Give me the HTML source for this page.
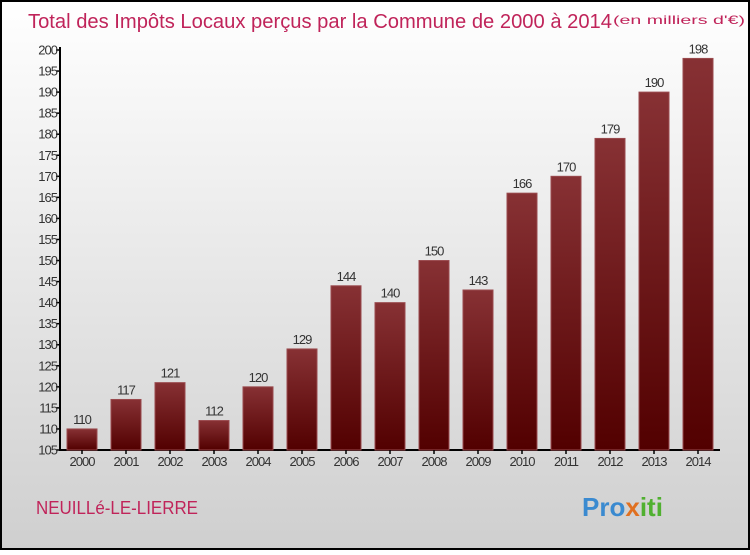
<!DOCTYPE html>
<html><head><meta charset="utf-8"><style>
body{margin:0}
#c{width:750px;height:550px;position:relative;font-family:"Liberation Sans",sans-serif;}
</style></head><body>
<div id="c">
<svg width="750" height="550" xmlns="http://www.w3.org/2000/svg" id="svg">
<defs>
<linearGradient id="bg" x1="0" y1="0" x2="0" y2="1"><stop offset="0" stop-color="#ffffff"/><stop offset="1" stop-color="#cfcfcf"/></linearGradient>
<linearGradient id="bar" x1="0" y1="0" x2="0" y2="1"><stop offset="0" stop-color="#873134"/><stop offset="1" stop-color="#520000"/></linearGradient>
</defs>
<rect x="1" y="1" width="748" height="548" fill="url(#bg)" stroke="#000" stroke-width="2"/>
<text x="28" y="28" font-size="20" fill="#c0245a" textLength="584" lengthAdjust="spacingAndGlyphs">Total des Impôts Locaux perçus par la Commune de 2000 à 2014</text>
<text x="613" y="24" font-size="12" fill="#c0245a" textLength="132" lengthAdjust="spacingAndGlyphs">(en milliers d'€)</text>
<text x="36" y="514" font-size="18" fill="#c0245a" textLength="162" lengthAdjust="spacingAndGlyphs">NEUILLé-LE-LIERRE</text>
<text x="582" y="516" font-size="26" font-weight="bold" fill="#3a8ad0">Pro<tspan fill="#e07020">x</tspan><tspan fill="#50b030">iti</tspan></text>
<g id="g"></g>
</svg>
</div>
<script>
const categories=["2000","2001","2002","2003","2004","2005","2006","2007","2008","2009","2010","2011","2012","2013","2014"];
const values=[110,117,121,112,120,129,144,140,150,143,166,170,179,190,198];
const yTicks=[105,110,115,120,125,130,135,140,145,150,155,160,165,170,175,180,185,190,195,200];
const NS="http://www.w3.org/2000/svg";
const g=document.getElementById('g');
const y0=450,y1=50,vmin=105,vmax=200;
function y(v){return y0-(v-vmin)/(vmax-vmin)*(y0-y1);}
function x(i){return 82+i*44;}
function mk(t,a,txt){const e=document.createElementNS(NS,t);for(const k in a)e.setAttribute(k,a[k]);if(txt!==undefined)e.textContent=txt;g.appendChild(e);return e;}
let e=mk('line',{x1:60,y1:y1-3,x2:60,y2:y0,stroke:'#000','stroke-width':2});


e=mk('line',{x1:59,y1:y0,x2:720,y2:y0,stroke:'#000','stroke-width':2});


yTicks.forEach(t=>{
 let l=mk('line',{x1:56,y1:y(t),x2:61,y2:y(t),stroke:'#000','stroke-width':1.5});
 
 
 let s=mk('text',{x:57,y:y(t)+4.5,'font-size':13,'text-anchor':'end',fill:'#333','letter-spacing':'-1'},t);
 
 
});
categories.forEach((c,i)=>{
 const v=values[i];
 let r=mk('rect',{x:x(i)-15,y:y(v),width:30,height:y0-y(v),fill:'url(#bar)',stroke:'#9a4a4e','stroke-width':1});
 
 
 let l=mk('line',{x1:x(i),y1:y0,x2:x(i),y2:y0+4,stroke:'#000','stroke-width':1.5});
 
 
 let t=mk('text',{x:x(i),y:y0+16,'font-size':13,'text-anchor':'middle',fill:'#333','letter-spacing':'-1'},c);
 
 
 let vl=mk('text',{x:x(i),y:y(v)-5,'font-size':13,'text-anchor':'middle',fill:'#333','letter-spacing':'-1'},v);
 
 
});
</script>
</body></html>
